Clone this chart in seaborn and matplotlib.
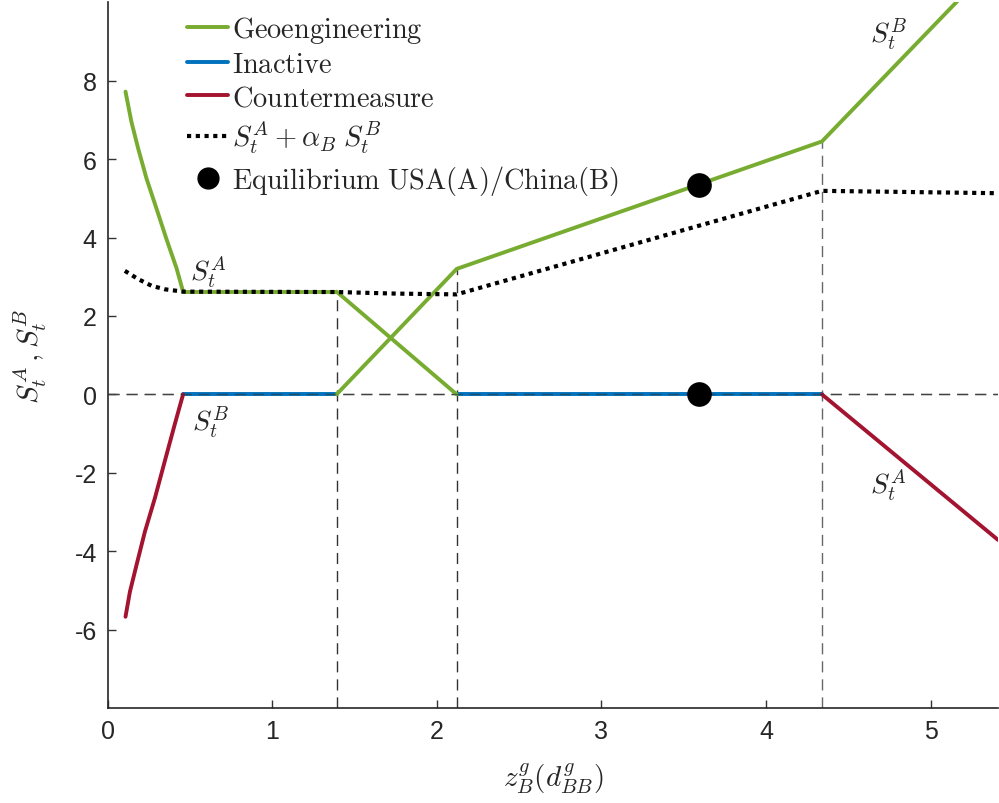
import numpy as np
import pandas as pd
import matplotlib
matplotlib.use("Agg")
import matplotlib.pyplot as plt
import seaborn as sns
from matplotlib.lines import Line2D

# ---------------- data ----------------
# Geoengineering (green) segments
geo_A_left_x = [0.107, 0.143, 0.184, 0.235, 0.296, 0.356, 0.417, 0.457]
geo_A_left_y = [7.72, 6.95, 6.27, 5.50, 4.73, 3.96, 3.22, 2.62]
geo_A_flat_x = [0.457, 1.39]
geo_A_flat_y = [2.62, 2.62]
geo_A_down_x = [1.39, 2.12]
geo_A_down_y = [2.62, 0.0]
geo_B_up_x = [1.39, 2.12, 4.34, 5.41]
geo_B_up_y = [0.0, 3.2, 6.45, 11.1]

# Inactive (blue) segments
inact_B_x = [0.457, 1.39]
inact_B_y = [0.0, 0.0]
inact_A_x = [2.12, 4.34]
inact_A_y = [0.0, 0.0]

# Countermeasure (red) segments
cm_B_x = [0.107, 0.134, 0.174, 0.225, 0.286, 0.346, 0.406, 0.457]
cm_B_y = [-5.67, -5.03, -4.35, -3.50, -2.64, -1.70, -0.77, 0.0]
cm_A_x = [4.34, 5.41]
cm_A_y = [0.0, -3.71]

# S^A + alpha_B S^B (dotted)
sum_x = [0.103, 0.184, 0.265, 0.346, 0.457, 1.39, 1.75, 2.12, 4.34, 5.41]
sum_y = [3.15, 2.94, 2.77, 2.68, 2.62, 2.61, 2.57, 2.55, 5.19, 5.13]

# Equilibrium points
eq_x = [3.59, 3.59]
eq_y = [5.35, 0.0]

# Switching thresholds (vertical dashed lines) and their tops
thr_x = [1.39, 2.12, 4.34]
thr_top = [2.62, 3.2, 6.45]

legend_labels = [r"$\mathrm{Geoengineering}$", r"$\mathrm{Inactive}$",
                 r"$\mathrm{Countermeasure}$", r"$S^A_t + \alpha_B\;S^B_t$",
                 r"$\mathrm{Equilibrium\ USA(A)/China(B)}$"]

GREEN = "#77AC30"
BLUE = "#0072BD"
RED = "#A2142F"

# ---------------- plotting ----------------
sns.set_style("ticks")
plt.rcParams["mathtext.fontset"] = "cm"
plt.rcParams["font.family"] = ["Liberation Sans", "DejaVu Sans"]
plt.rcParams["axes.unicode_minus"] = False
plt.rcParams["xtick.direction"] = "in"
plt.rcParams["ytick.direction"] = "in"

fig = plt.figure(figsize=(9.99, 8.04), dpi=100)
ax = fig.add_axes([0.108, 0.118, 0.891, 0.878])

# reference lines
ax.axhline(0, color="0.35", lw=1.0, ls=(0, (8, 5)), zorder=1)
for xv, top in zip(thr_x, thr_top):
    ax.plot([xv, xv], [-8, top], color="0.2" if xv < 3 else "0.4",
            lw=1.0, ls=(0, (8, 5)), zorder=1)

lw = 2.8
def seg(x, y, c, **kw):
    sns.lineplot(x=x, y=y, color=c, lw=lw, ax=ax, sort=False,
                 estimator=None, legend=False, **kw)

seg(inact_B_x, inact_B_y, BLUE)
seg(inact_A_x, inact_A_y, BLUE)
seg(geo_A_left_x, geo_A_left_y, GREEN)
seg(geo_A_flat_x, geo_A_flat_y, GREEN)
seg(geo_A_down_x, geo_A_down_y, GREEN)
seg(geo_B_up_x, geo_B_up_y, GREEN)
seg(cm_B_x, cm_B_y, RED)
seg(cm_A_x, cm_A_y, RED)

sns.lineplot(x=sum_x, y=sum_y, color="black", lw=3.0, ax=ax, sort=False,
             estimator=None, legend=False, linestyle=(0, (1, 1.1)))

# horizontal dashed line also visible over the blue segments
ax.axhline(0, color="0.2", lw=1.0, ls=(0, (8, 5)), zorder=3, alpha=0.6)

sns.scatterplot(x=eq_x, y=eq_y, color="black", s=270, ax=ax, zorder=5,
                edgecolor="black", legend=False)

# annotations
ax.text(0.50, 3.15, r"$S^A_t$", fontsize=20, ha="left", va="center")
ax.text(0.51, -0.7, r"$S^B_t$", fontsize=20, ha="left", va="center")
ax.text(4.63, 9.2, r"$S^B_t$", fontsize=20, ha="left", va="center")
ax.text(4.63, -2.3, r"$S^A_t$", fontsize=20, ha="left", va="center")

ax.set_xlim(0, 5.41)
ax.set_ylim(-8, 10)
ax.set_xticks([0, 1, 2, 3, 4, 5])
ax.set_yticks([-6, -4, -2, 0, 2, 4, 6, 8])
ax.tick_params(labelsize=18, length=6, width=1.0, color="0.2", labelcolor="0.15",
               pad=8)
for s in ["top", "right"]:
    ax.spines[s].set_visible(False)
for s in ["left", "bottom"]:
    ax.spines[s].set_linewidth(1.2)
    ax.spines[s].set_color("0.15")

ax.set_xlabel(r"$z^g_B(d^g_{BB})$", fontsize=21, labelpad=12)
ax.set_ylabel(r"$S^A_t\,,S^B_t$", fontsize=21, labelpad=18)

handles = [Line2D([], [], color=GREEN, lw=lw),
           Line2D([], [], color=BLUE, lw=lw),
           Line2D([], [], color=RED, lw=lw),
           Line2D([], [], color="black", lw=3.0, ls=(0, (1, 1.1))),
           Line2D([], [], color="black", marker="o", ms=15, ls="none")]
ax.legend(handles, legend_labels, loc="upper left", bbox_to_anchor=(0.089, 0.984),
          frameon=False, fontsize=20.4, handlelength=1.45, handletextpad=0.15,
          labelspacing=0.26, borderaxespad=0.0, borderpad=0.0)

fig.savefig("out.png", dpi=100)
